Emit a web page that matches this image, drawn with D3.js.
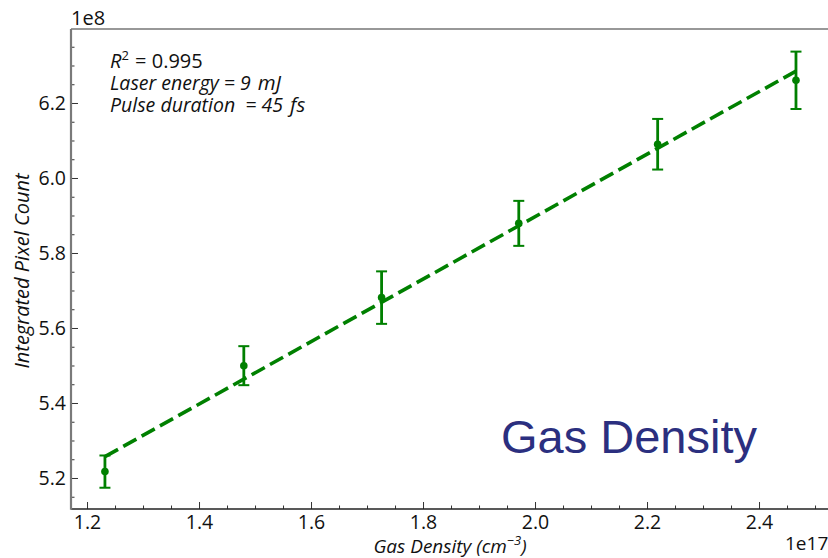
<!DOCTYPE html>
<html>
<head>
<meta charset="utf-8">
<script src="https://cdn.jsdelivr.net/npm/d3@7"></script>
<style>
  body { margin: 0; background: #fff; }
  svg text { font-family: "Open Sans", Lato, sans-serif; fill: #111; white-space: pre; }
</style>
</head>
<body>
<svg id="chart" width="828" height="558"></svg>
<script>
// Measured signal vs. gas density (x in 1e17 cm^-3, y in 1e8 counts)
const density    = [1.232, 1.480, 1.726, 1.971, 2.219, 2.466];
const pixelCount = [5.217, 5.4995, 5.681, 5.879, 6.090, 6.2605];
const pixelErr   = [0.043, 0.052, 0.070, 0.060, 0.0675, 0.0765];

// Linear fit end points
const fitDensity = [1.232, 2.466];
const fitCount   = [5.257, 6.285];

const xTicks = [1.2, 1.4, 1.6, 1.8, 2.0, 2.2, 2.4];
const yTicks = [5.2, 5.4, 5.6, 5.8, 6.0, 6.2];
const xMinorTicks = [1.25, 1.3, 1.35, 1.45, 1.5, 1.55, 1.65, 1.7, 1.75, 1.85, 1.9, 1.95,
                     2.05, 2.1, 2.15, 2.25, 2.3, 2.35, 2.45, 2.5];
const yMinorTicks = [5.15, 5.25, 5.3, 5.35, 5.45, 5.5, 5.55, 5.65, 5.7, 5.75, 5.85, 5.9, 5.95,
                     6.05, 6.1, 6.15, 6.25, 6.3, 6.35];

// Run conditions: [text, unit]
const notes = [["Laser energy = 9", "mJ"], ["Pulse duration  = 45", "fs"]];

const green = "#008000";
const svg = d3.select("#chart");

const plotLeft = 71, plotTop = 29, plotBottom = 509, plotRight = 840;
const x = d3.scaleLinear().domain([1.1714, 2.5446]).range([plotLeft, plotRight]);
const y = d3.scaleLinear().domain([5.1173, 6.3973]).range([plotBottom, plotTop]);

// Axes with inward ticks
const gx = svg.append("g").attr("transform", `translate(0,${plotBottom})`);
gx.call(d3.axisBottom(x).tickValues(xTicks).tickFormat(d3.format(".1f"))
  .tickSize(-7).tickPadding(6));
const gxm = svg.append("g").attr("transform", `translate(0,${plotBottom})`);
gxm.call(d3.axisBottom(x).tickValues(xMinorTicks).tickFormat("").tickSize(-3.5));

const gy = svg.append("g").attr("transform", `translate(${plotLeft},0)`);
gy.call(d3.axisLeft(y).tickValues(yTicks).tickFormat(d3.format(".1f"))
  .tickSize(-7).tickPadding(5));
const gym = svg.append("g").attr("transform", `translate(${plotLeft},0)`);
gym.call(d3.axisLeft(y).tickValues(yMinorTicks).tickFormat("").tickSize(-3.5));

svg.selectAll(".domain").remove();
svg.selectAll(".tick line").attr("stroke", "#333").attr("stroke-width", 1);
svg.selectAll(".tick text").attr("font-size", 19.5).attr("fill", "#111")
  .style("font-family", "'Open Sans', Lato, sans-serif");

// Spines
svg.append("line").attr("x1", plotLeft).attr("x2", 828).attr("y1", plotTop).attr("y2", plotTop)
  .attr("stroke", "#333").attr("stroke-width", 1.2);
svg.append("line").attr("x1", plotLeft).attr("x2", 828).attr("y1", plotBottom).attr("y2", plotBottom)
  .attr("stroke", "#222").attr("stroke-width", 1.5);
svg.append("line").attr("x1", plotLeft).attr("x2", plotLeft).attr("y1", plotTop).attr("y2", plotBottom + 0.75)
  .attr("stroke", "#7a7a7a").attr("stroke-width", 2.2);

// Fit line
svg.append("path")
  .datum(fitDensity.map((d, i) => [d, fitCount[i]]))
  .attr("d", d3.line().x(d => x(d[0])).y(d => y(d[1])))
  .attr("fill", "none").attr("stroke", green)
  .attr("stroke-width", 3.6).attr("stroke-dasharray", "15,6");

// Error bars and markers
const pts = density.map((d, i) => ({ x: d, y: pixelCount[i], e: pixelErr[i] }));
const eb = svg.append("g").selectAll("g").data(pts).join("g");
eb.append("line")
  .attr("x1", d => x(d.x)).attr("x2", d => x(d.x))
  .attr("y1", d => y(d.y - d.e)).attr("y2", d => y(d.y + d.e))
  .attr("stroke", green).attr("stroke-width", 2.8);
[-1, 1].forEach(s => {
  eb.append("line")
    .attr("x1", d => x(d.x) - 5.5).attr("x2", d => x(d.x) + 5.5)
    .attr("y1", d => y(d.y + s * d.e)).attr("y2", d => y(d.y + s * d.e))
    .attr("stroke", green).attr("stroke-width", 2);
});
eb.append("circle")
  .attr("cx", d => x(d.x)).attr("cy", d => y(d.y)).attr("r", 3.8)
  .attr("fill", green);

// Offset labels
svg.append("text").attr("x", 71).attr("y", 25).attr("font-size", 20).text("1e8");
svg.append("text").attr("x", 785).attr("y", 550).attr("font-size", 19).text("1e17");

// Axis titles
const xt = svg.append("text").attr("x", 450).attr("y", 553)
  .attr("text-anchor", "middle").attr("font-size", 19).attr("font-style", "italic");
xt.append("tspan").text("Gas Density (cm");
xt.append("tspan").attr("font-size", 13).attr("dy", -8).text("\u22123");
xt.append("tspan").attr("dy", 8).text(")");

svg.append("text")
  .attr("transform", "translate(29,271) rotate(-90)")
  .attr("text-anchor", "middle").attr("font-size", 20).attr("font-style", "italic")
  .text("Integrated Pixel Count");

// Annotation block
const r2 = svg.append("text").attr("x", 110).attr("y", 68).attr("font-size", 20);
r2.append("tspan").attr("font-style", "italic").text("R");
r2.append("tspan").attr("font-size", 13).attr("dy", -8).text("2");
r2.append("tspan").attr("dy", 8).attr("dx", 1).text(" = 0.995");
const noteText = svg.selectAll(".note").data(notes).join("text").attr("class", "note")
  .attr("x", 110).attr("y", (d, i) => 90 + i * 22)
  .attr("font-size", 19.5).attr("font-style", "italic");
noteText.append("tspan").text(d => d[0]);
noteText.append("tspan").attr("dx", 7).attr("font-size", 20.5).text(d => d[1]);

// Panel caption
svg.append("text").attr("x", 501).attr("y", 453)
  .attr("font-size", 47).style("font-family", "'Liberation Sans', Arial, sans-serif")
  .style("fill", "#2b2f7f").text("Gas Density");
</script>
</body>
</html>
